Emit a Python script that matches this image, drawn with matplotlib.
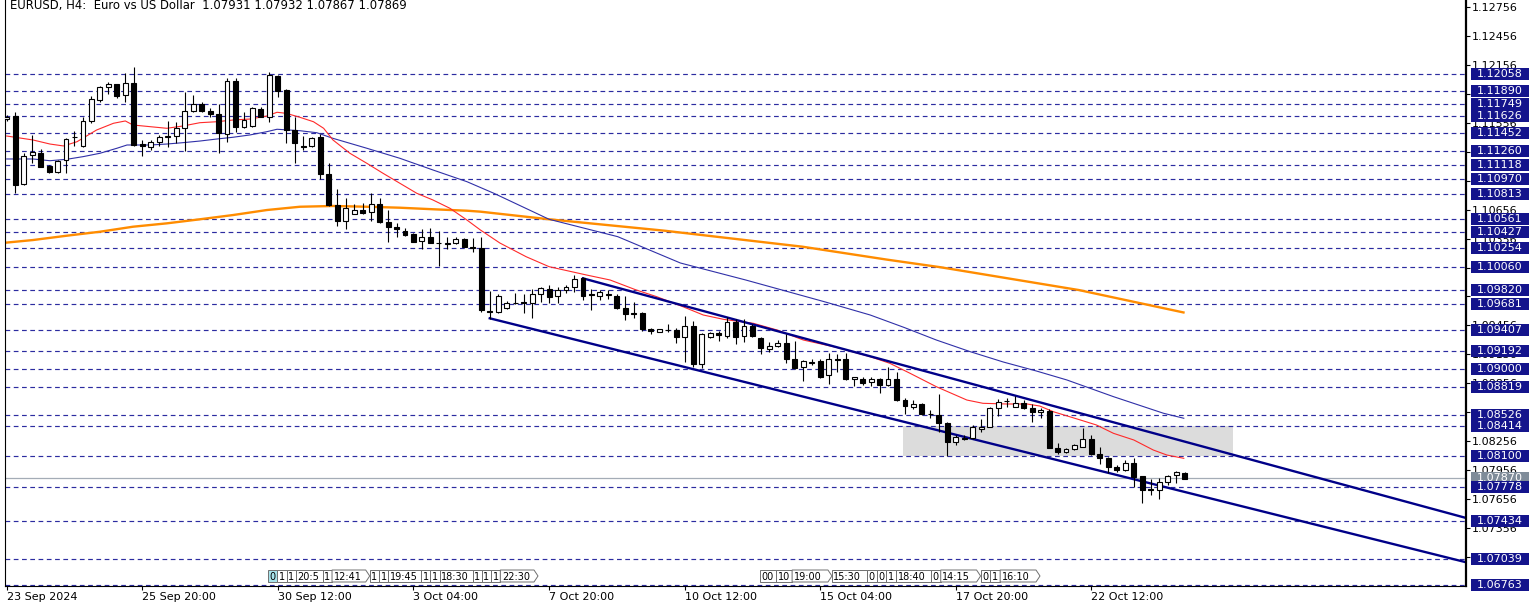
import matplotlib
matplotlib.use("Agg")
import matplotlib.pyplot as plt
from matplotlib.patches import Rectangle, Polygon

# ---------------- data ----------------
opens = [1.11595, 1.11626, 1.10922, 1.11222, 1.11246, 1.11108, 1.11049, 1.11170, 1.11406, 1.11316,
         1.11575, 1.11792, 1.11930, 1.11955, 1.11844, 1.11965, 1.11333, 1.11302, 1.11354, 1.11406,
         1.11419, 1.11499, 1.11678, 1.11751, 1.11681, 1.11644, 1.11440, 1.11989, 1.11516, 1.11526,
         1.11699, 1.11613, 1.12044, 1.11896, 1.11481, 1.11319, 1.11319, 1.11406, 1.11025, 1.10704,
         1.10538, 1.10611, 1.10652, 1.10628, 1.10714, 1.10531, 1.10473, 1.10438, 1.10400, 1.10334,
         1.10376, 1.10313, 1.10304, 1.10307, 1.10349, 1.10272, 1.10255, 1.09603, 1.09592, 1.09634,
         1.09692, 1.09694, 1.09692, 1.09779, 1.09831, 1.09761, 1.09823, 1.09857, 1.09944, 1.09779,
         1.09761, 1.09776, 1.09761, 1.09634, 1.09582, 1.09582, 1.09416, 1.09391, 1.09409, 1.09409,
         1.09333, 1.09450, 1.09056, 1.09339, 1.09381, 1.09347, 1.09495, 1.09347, 1.09450, 1.09323,
         1.09209, 1.09243, 1.09271, 1.09105, 1.09022, 1.09073, 1.09091, 1.08942, 1.09105, 1.09108,
         1.08901, 1.08901, 1.08873, 1.08901, 1.08839, 1.08901, 1.08683, 1.08608, 1.08642, 1.08538,
         1.08528, 1.08442, 1.08251, 1.08290, 1.08286, 1.08379, 1.08407, 1.08597, 1.08670, 1.08614,
         1.08655, 1.08597, 1.08556, 1.08572, 1.08189, 1.08148, 1.08176, 1.08199, 1.08279, 1.08124,
         1.08086, 1.07986, 1.07958, 1.08027, 1.07896, 1.07761, 1.07751, 1.07831, 1.07906, 1.07931]
highs = [1.11637, 1.11671, 1.11246, 1.11430, 1.11284, 1.11119, 1.11170, 1.11395, 1.11471, 1.11619,
         1.11834, 1.11937, 1.11982, 1.11958, 1.12069, 1.12137, 1.11378, 1.11378, 1.11430, 1.11575,
         1.11567, 1.11878, 1.11844, 1.11775, 1.11706, 1.11748, 1.12017, 1.12023, 1.11671, 1.11717,
         1.11723, 1.12079, 1.12051, 1.11903, 1.11619, 1.11419, 1.11412, 1.11440, 1.11136, 1.10867,
         1.10774, 1.10714, 1.10728, 1.10825, 1.10774, 1.10652, 1.10521, 1.10463, 1.10411, 1.10455,
         1.10463, 1.10438, 1.10376, 1.10376, 1.10359, 1.10359, 1.10376, 1.09816, 1.09779, 1.09709,
         1.09789, 1.09779, 1.09834, 1.09851, 1.09875, 1.09851, 1.09875, 1.09979, 1.09955, 1.09831,
         1.09823, 1.09823, 1.09779, 1.09764, 1.09702, 1.09592, 1.09426, 1.09419, 1.09471, 1.09426,
         1.09554, 1.09505, 1.09381, 1.09385, 1.09398, 1.09547, 1.09523, 1.09520, 1.09468, 1.09339,
         1.09287, 1.09305, 1.09367, 1.09295, 1.09098, 1.09105, 1.09105, 1.09167, 1.09157, 1.09167,
         1.08925, 1.08925, 1.08925, 1.08908, 1.09022, 1.08970, 1.08701, 1.08683, 1.08655, 1.08580,
         1.08746, 1.08459, 1.08321, 1.08321, 1.08424, 1.08486, 1.08608, 1.08691, 1.08701, 1.08728,
         1.08683, 1.08642, 1.08597, 1.08587, 1.08241, 1.08189, 1.08227, 1.08390, 1.08321, 1.08193,
         1.08096, 1.08010, 1.08061, 1.08079, 1.07899, 1.07865, 1.07872, 1.07906, 1.07951, 1.07932]
lows = [1.11575, 1.10828, 1.10911, 1.11142, 1.11095, 1.11039, 1.11033, 1.11033, 1.11316, 1.11305,
        1.11551, 1.11775, 1.11851, 1.11810, 1.11768, 1.11319, 1.11212, 1.11274, 1.11316, 1.11302,
        1.11350, 1.11267, 1.11671, 1.11665, 1.11619, 1.11240, 1.11360, 1.11464, 1.11499, 1.11516,
        1.11613, 1.11567, 1.11826, 1.11350, 1.11136, 1.11274, 1.11310, 1.10973, 1.10697, 1.10490,
        1.10455, 1.10608, 1.10608, 1.10541, 1.10514, 1.10324, 1.10369, 1.10386, 1.10318, 1.10248,
        1.10307, 1.10072, 1.10245, 1.10297, 1.10266, 1.10220, 1.09598, 1.09520, 1.09582, 1.09626,
        1.09678, 1.09582, 1.09536, 1.09702, 1.09685, 1.09692, 1.09789, 1.09799, 1.09720, 1.09616,
        1.09720, 1.09727, 1.09623, 1.09512, 1.09530, 1.09398, 1.09367, 1.09385, 1.09391, 1.09271,
        1.09080, 1.09028, 1.09012, 1.09329, 1.09295, 1.09329, 1.09264, 1.09281, 1.09339, 1.09157,
        1.09184, 1.09236, 1.09070, 1.09001, 1.08880, 1.09046, 1.08914, 1.08849, 1.08977, 1.08891,
        1.08828, 1.08839, 1.08828, 1.08753, 1.08828, 1.08673, 1.08535, 1.08587, 1.08528, 1.08500,
        1.08355, 1.08103, 1.08217, 1.08264, 1.08276, 1.08355, 1.08400, 1.08518, 1.08614, 1.08608,
        1.08587, 1.08459, 1.08500, 1.08183, 1.08121, 1.08137, 1.08165, 1.08193, 1.08114, 1.08020,
        1.07930, 1.07940, 1.07951, 1.07785, 1.07619, 1.07699, 1.07657, 1.07802, 1.07820, 1.07867]
closes = [1.11616, 1.10911, 1.11215, 1.11256, 1.11101, 1.11049, 1.11163, 1.11388, 1.11409, 1.11575,
          1.11799, 1.11924, 1.11958, 1.11837, 1.11972, 1.11326, 1.11319, 1.11360, 1.11412, 1.11419,
          1.11499, 1.11681, 1.11751, 1.11678, 1.11644, 1.11447, 1.11989, 1.11516, 1.11585, 1.11706,
          1.11619, 1.12051, 1.11889, 1.11481, 1.11344, 1.11302, 1.11402, 1.11025, 1.10704, 1.10538,
          1.10670, 1.10652, 1.10624, 1.10714, 1.10531, 1.10473, 1.10455, 1.10393, 1.10324, 1.10376,
          1.10313, 1.10307, 1.10310, 1.10352, 1.10272, 1.10255, 1.09616, 1.09595, 1.09761, 1.09692,
          1.09685, 1.09689, 1.09779, 1.09841, 1.09748, 1.09823, 1.09857, 1.09937, 1.09761, 1.09775,
          1.09799, 1.09780, 1.09634, 1.09575, 1.09572, 1.09416, 1.09402, 1.09416, 1.09405, 1.09333,
          1.09450, 1.09056, 1.09367, 1.09374, 1.09357, 1.09495, 1.09339, 1.09450, 1.09347, 1.09219,
          1.09246, 1.09271, 1.09105, 1.09018, 1.09087, 1.09067, 1.08925, 1.09108, 1.09102, 1.08901,
          1.08918, 1.08863, 1.08901, 1.08839, 1.08898, 1.08683, 1.08624, 1.08642, 1.08538, 1.08535,
          1.08442, 1.08251, 1.08303, 1.08283, 1.08407, 1.08407, 1.08597, 1.08666, 1.08676, 1.08655,
          1.08597, 1.08556, 1.08580, 1.08189, 1.08148, 1.08173, 1.08217, 1.08279, 1.08124, 1.08086,
          1.07986, 1.07958, 1.08033, 1.07882, 1.07751, 1.07755, 1.07831, 1.07899, 1.07940, 1.07869]

# moving averages (bar index, price)
ma_fast_bar = [0.0, 3.1, 5.1, 6.7, 8.3, 10.6, 12.6, 14.0, 14.9, 16.9, 18.9, 20.8, 22.8, 24.8, 26.7,
               28.7, 30.7, 31.9, 33.0, 34.6, 36.2, 37.4, 38.5, 40.5, 42.5, 44.4, 46.4, 48.4, 50.3,
               52.3, 54.3, 55.9, 58.2, 61.3, 64.0, 68.4, 71.2, 74.3, 76.7, 79.8, 82.2, 84.6, 88.1,
               90.9, 94.0, 97.9, 101.9, 104.2, 106.6, 109.7, 113.3, 115.2, 118.0, 120.4, 121.9,
               123.5, 126.7, 128.6, 130.6, 133.0, 135.3, 136.9, 138.9]
ma_fast_val = [1.11419, 1.11378, 1.11336, 1.11316, 1.11360, 1.11481, 1.11551, 1.11575, 1.11533,
               1.11516, 1.11499, 1.11523, 1.11557, 1.11567, 1.11585, 1.11595, 1.11626, 1.11665,
               1.11654, 1.11613, 1.11567, 1.11499, 1.11378, 1.11240, 1.11136, 1.11033, 1.10929,
               1.10825, 1.10756, 1.10670, 1.10549, 1.10445, 1.10310, 1.10168, 1.10065, 1.09979,
               1.09927, 1.09823, 1.09754, 1.09650, 1.09564, 1.09519, 1.09478, 1.09409, 1.09305,
               1.09229, 1.09132, 1.09064, 1.08960, 1.08821, 1.08683, 1.08649, 1.08642, 1.08642,
               1.08621, 1.08562, 1.08476, 1.08424, 1.08338, 1.08269, 1.08165, 1.08113, 1.08079]
ma_mid_bar = [0.0, 3.1, 5.1, 7.1, 9.0, 11.0, 13.0, 14.2, 16.9, 18.9, 20.8, 22.8, 24.8, 26.7, 28.7,
              30.7, 31.9, 34.6, 36.6, 38.5, 42.5, 46.4, 50.3, 54.3, 57.5, 64.0, 72.1, 79.5, 87.2,
              96.6, 101.9, 105.9, 109.7, 113.7, 117.6, 121.5, 125.1, 130.6, 136.5, 138.9]
ma_mid_val = [1.11181, 1.11181, 1.11163, 1.11178, 1.11205, 1.11240, 1.11292, 1.11326, 1.11326,
              1.11336, 1.11350, 1.11367, 1.11388, 1.11406, 1.11430, 1.11464, 1.11489, 1.11474,
              1.11453, 1.11395, 1.11292, 1.11188, 1.11067, 1.10946, 1.10825, 1.10556, 1.10376,
              1.10103, 1.09927, 1.09699, 1.09564, 1.09435, 1.09305, 1.09184, 1.09077, 1.08984,
              1.08891, 1.08718, 1.08546, 1.08494]
ma_slow_bar = [-0.2, 3.1, 7.1, 11.0, 14.9, 18.9, 22.8, 26.7, 30.7, 34.6, 38.5, 42.5, 46.4, 50.3,
               54.3, 55.9, 64.0, 77.6, 93.9, 103.8, 110.2, 126.5, 139.0]
ma_slow_val = [1.10313, 1.10341, 1.10386, 1.10427, 1.10479, 1.10514, 1.10556, 1.10600, 1.10652,
               1.10686, 1.10694, 1.10686, 1.10676, 1.10660, 1.10645, 1.10635, 1.10556, 1.10438,
               1.10272, 1.10139, 1.10059, 1.09823, 1.09588]

# trend lines (bar index, price) and shaded zone
upper_line_bar = [68.0, 172.2]
upper_line_val = [1.09944, 1.07461]
lower_line_bar = [57.0, 172.2]
lower_line_val = [1.09530, 1.07002]
zone_bars = [105.8, 144.7]
zone_prices = [1.08100, 1.08414]

level_prices = [1.12058, 1.11890, 1.11749, 1.11626, 1.11452, 1.11260, 1.11118, 1.10970, 1.10813,
                1.10561, 1.10427, 1.10254, 1.10060, 1.09820, 1.09681, 1.09407, 1.09192, 1.09000,
                1.08819, 1.08526, 1.08414, 1.08100, 1.07778, 1.07434, 1.07039, 1.06763]
bid_price = 1.07870

price_ticks = [1.12756, 1.12456, 1.12156, 1.11856, 1.11556, 1.11256, 1.10956, 1.10656, 1.10356,
               1.10056, 1.09756, 1.09456, 1.09156, 1.08856, 1.08556, 1.08256, 1.07956, 1.07656,
               1.07356, 1.07056]
# tick labels that sit completely under a level box in the reference
hidden_ticks = [1.11856, 1.11256, 1.10956, 1.10056, 1.09756, 1.08556, 1.07056]
time_labels = ["23 Sep 2024", "25 Sep 20:00", "30 Sep 12:00", "3 Oct 04:00", "7 Oct 20:00",
               "10 Oct 12:00", "15 Oct 04:00", "17 Oct 20:00", "22 Oct 12:00"]
time_label_bars = [0, 16, 32, 48, 64, 80, 96, 112, 128]

title_text = "EURUSD, H4:  Euro vs US Dollar  1.07931 1.07932 1.07867 1.07869"

event_labels_1 = ["0", "1", "1", "20:5", "1", "12:41", "1", "1", "19:45", "1", "1", "18:30",
                  "1", "1", "1", "22:30"]
event_arrows_1 = ["12:41", "22:30"]
event_labels_2 = ["00", "10", "19:00", "15:30", "0", "0", "1", "18:40", "0", "14:15", "0", "1",
                  "16:10"]
event_arrows_2 = ["19:00", "14:15", "16:10"]

# ---------------- layout ----------------
W, H = 1540, 609
AX_L, AX_R, AX_T, AX_B = 5, 1466, 0, 586
X_LEFT, X_RIGHT = -0.2, 172.2
Y_TOP, Y_BOT = 1.128285, 1.067558
px_per_price = (AX_B - AX_T) / (Y_TOP - Y_BOT)

fig = plt.figure(figsize=(W / 100, H / 100), dpi=100)
fig.patch.set_facecolor("white")
ax = fig.add_axes([AX_L / W, 1 - AX_B / H, (AX_R - AX_L) / W, (AX_B - AX_T) / H])
ax.set_xlim(X_LEFT, X_RIGHT)
ax.set_ylim(Y_BOT, Y_TOP)
ax.set_facecolor("white")

NAVY = "#14148c"
DASH = "#2c2ca0"

# shaded zone
ax.add_patch(Rectangle((zone_bars[0], zone_prices[0]), zone_bars[1] - zone_bars[0],
                       zone_prices[1] - zone_prices[0], facecolor="#dcdcdc",
                       edgecolor="none", zorder=0.5))

# horizontal dashed levels
for p in level_prices:
    ax.axhline(p, color=DASH, lw=0.85, ls=(0, (4, 3)), zorder=1)
ax.axhline(bid_price, color="#a4acb6", lw=0.9, zorder=1.2)

# moving averages
ax.plot(ma_slow_bar, ma_slow_val, color="#ff8c00", lw=1.7, zorder=2, solid_capstyle="butt")
ax.plot(ma_mid_bar, ma_mid_val, color="#3030a8", lw=0.8, zorder=2.1)
ax.plot(ma_fast_bar, ma_fast_val, color="#ff2a2a", lw=0.8, zorder=2.2)

# channel lines
ax.plot(upper_line_bar, upper_line_val, color="#000088", lw=1.7, zorder=2.5)
ax.plot(lower_line_bar, lower_line_val, color="#000088", lw=1.7, zorder=2.5)

# candles
body_w = 0.58
for i in range(len(opens)):
    o, h, l, c = opens[i], highs[i], lows[i], closes[i]
    ax.vlines(i, l, h, color="black", lw=0.8, zorder=3)
    lo, hi = min(o, c), max(o, c)
    if hi - lo < 0.00002:
        ax.hlines(o, i - body_w / 2, i + body_w / 2, color="black", lw=0.9, zorder=4)
    else:
        fc = "white" if c > o else "black"
        ax.add_patch(Rectangle((i - body_w / 2, lo), body_w, hi - lo, facecolor=fc,
                               edgecolor="black", lw=0.8, zorder=4))

# axes styling
ax.spines["top"].set_visible(False)
ax.spines["right"].set_linewidth(1.6)
ax.spines["left"].set_linewidth(0.8)
ax.spines["bottom"].set_linewidth(0.8)
ax.yaxis.tick_right()
ax.set_yticks(price_ticks)
ax.set_yticklabels(["" if p in hidden_ticks else f"{p:.5f}" for p in price_ticks])
ax.tick_params(axis="y", direction="out", length=3, width=0.8, pad=1.5, labelsize=8,
               colors="black")
ax.set_xticks(time_label_bars)
ax.set_xticklabels(time_labels)
for t in ax.get_xticklabels():
    t.set_horizontalalignment("left")
ax.tick_params(axis="x", direction="out", length=3, width=0.8, pad=1.0, labelsize=8,
               colors="black")

# price label boxes on the right axis
ytr = ax.get_yaxis_transform()
bx0 = (1471 - AX_L) / (AX_R - AX_L)
bw = 58 / (AX_R - AX_L)
bh = 12 / px_per_price
ax.add_patch(Rectangle((bx0, bid_price - bh / 2), bw, bh, transform=ytr, facecolor="#7f8c99",
                       edgecolor="none", clip_on=False, zorder=10))
ax.text(bx0 + bw / 2, bid_price, f"{bid_price:.5f}", transform=ytr, color="white", fontsize=8,
        ha="center", va="center", clip_on=False, zorder=11)
for p in level_prices:
    ax.add_patch(Rectangle((bx0, p - bh / 2), bw, bh, transform=ytr, facecolor=NAVY,
                           edgecolor="none", clip_on=False, zorder=12))
    ax.text(bx0 + bw / 2, p, f"{p:.5f}", transform=ytr, color="white", fontsize=8,
            ha="center", va="center", clip_on=False, zorder=13)

# overlay in pixel coordinates for title and event strip
ov = fig.add_axes([0, 0, 1, 1], zorder=20)
ov.set_xlim(0, W)
ov.set_ylim(H, 0)
ov.axis("off")
ov.patch.set_alpha(0)
ov.text(10, 6, title_text, fontsize=8.4, ha="left", va="center", color="black")


def draw_events(labels, arrows, x_start, x_end, first_cyan=False):
    widths = []
    for t in labels:
        w = 6.2 * len(t) + 3.5 + (5 if t in arrows else 0)
        widths.append(w)
    scale = (x_end - x_start) / sum(widths)
    x = x_start
    y0, y1 = 570, 582
    for k, t in enumerate(labels):
        w = widths[k] * scale
        fc = "#a8e4ec" if (first_cyan and k == 0) else "white"
        if t in arrows:
            poly = Polygon([(x, y0), (x + w - 4, y0), (x + w, (y0 + y1) / 2), (x + w - 4, y1),
                            (x, y1)], closed=True, facecolor=fc, edgecolor="#707070", lw=0.7)
        else:
            poly = Polygon([(x, y0), (x + w, y0), (x + w, y1), (x, y1)], closed=True,
                           facecolor=fc, edgecolor="#707070", lw=0.7)
        ov.add_patch(poly)
        txt = ov.text(x + 1.5, (y0 + y1) / 2 + 0.5, t, fontsize=7, ha="left", va="center",
                      color="black")
        txt.set_clip_path(poly)
        x += w


draw_events(event_labels_1, event_arrows_1, 268, 538, first_cyan=True)
draw_events(event_labels_2, event_arrows_2, 760, 1040)

fig.savefig("out.png", dpi=100, facecolor="white")
